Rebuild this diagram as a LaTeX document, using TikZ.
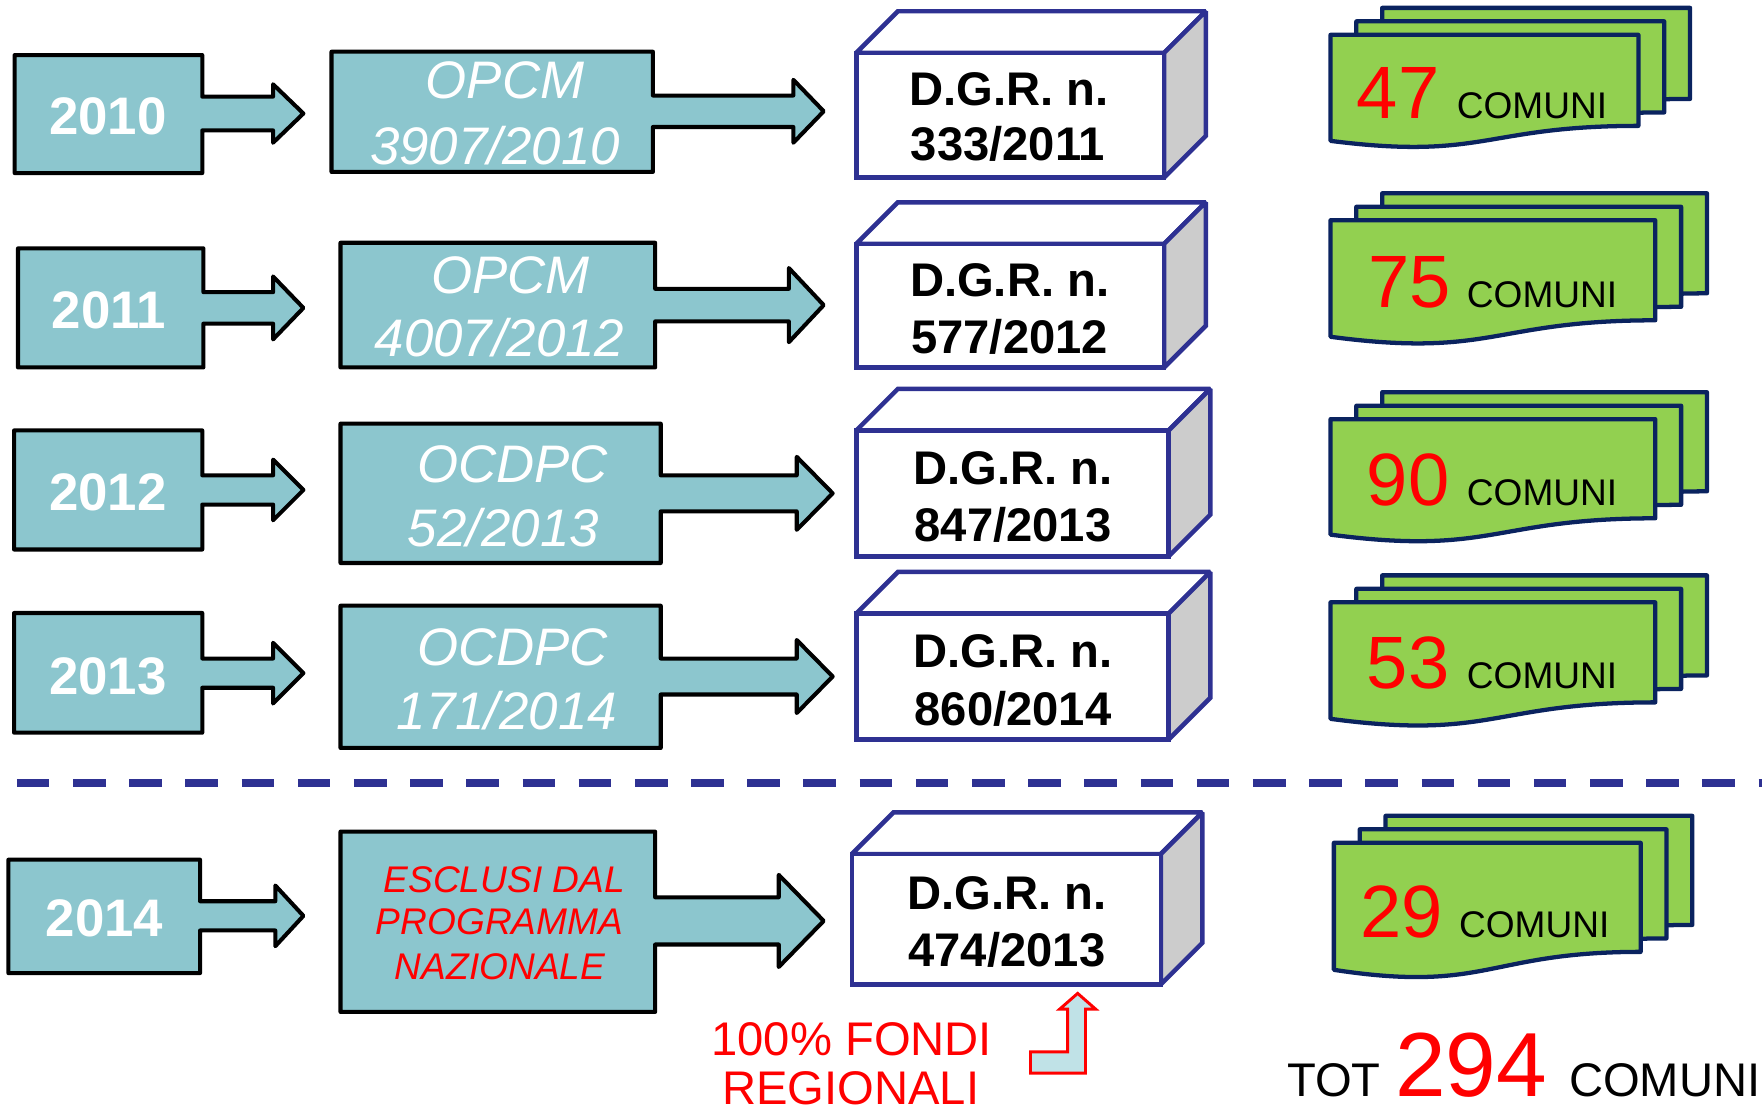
\documentclass[tikz,border=0pt]{standalone}
\usepackage{fontspec}
\setmainfont{Liberation Sans}
\definecolor{tealbox}{RGB}{140,198,206}
\definecolor{navy}{RGB}{46,49,146}
\definecolor{darknavy}{RGB}{10,35,95}
\definecolor{leaf}{RGB}{146,208,80}
\definecolor{sidegray}{RGB}{204,204,204}
\definecolor{paleblue}{RGB}{192,226,231}
\newcommand\mycallout[9]{%
  \draw[callout] (#1,#2) -- (#3,#2) -- (#3,{#5-#6}) -- (#8,{#5-#6}) -- (#8,{#5-#7}) -- (#9,#5)
    -- (#8,{#5+#7}) -- (#8,{#5+#6}) -- (#3,{#5+#6}) -- (#3,#4) -- (#1,#4) -- cycle;}
\newcommand\mycube[4]{%
  \draw[cubeline, fill=white] (#1,#2) -- ({#1+37},{#2-37}) -- ({#3+37},{#2-37}) -- (#3,#2) -- cycle;
  \draw[cubeline, fill=sidegray] (#3,#2) -- ({#3+37},{#2-37}) -- ({#3+37},{#4-37}) -- (#3,#4) -- cycle;
  \draw[cubeline, fill=white] (#1,#2) rectangle (#3,#4);}
\newcommand\mysheet[4]{%
  \draw[sheet] (#1,#2) -- ({#1+#3},#2) -- ({#1+#3},{#2+0.802*#4})
    .. controls ({#1+0.5*#3},{#2+0.802*#4}) and ({#1+0.5*#3},{#2+1.1075*#4}) .. (#1,{#2+0.934*#4}) -- cycle;}
\newcommand\mystack[4]{\mysheet{#1+46}{#2-24}{#3}{#4}\mysheet{#1+23}{#2-12}{#3}{#4}\mysheet{#1}{#2}{#3}{#4}}
\begin{document}
\begin{tikzpicture}[x=0.5pt,y=-0.5pt,
  callout/.style={fill=tealbox, draw=black, line width=1.8pt, line join=round},
  cubeline/.style={draw=navy, line width=2pt, line join=miter, miter limit=2},
  sheet/.style={fill=leaf, draw=darknavy, line width=1.9pt, line join=round},
  yeartxt/.style={text=white, font=\bfseries\fontsize{23.5}{26}\selectfont, inner sep=0pt, anchor=base},
  ordtxt/.style={text=white, font=\itshape\fontsize{23.5}{26}\selectfont, inner sep=0pt, anchor=base},
  esctxt/.style={text=red, font=\itshape\fontsize{16.5}{18}\selectfont, inner sep=0pt, anchor=base},
  dgrtxt/.style={text=black, font=\bfseries\fontsize{21}{24}\selectfont, inner sep=0pt, anchor=base},
  numtxt/.style={text=red, font=\fontsize{33}{36}\selectfont, inner sep=0pt, anchor=base west},
  comtxt/.style={text=black, font=\fontsize{16.5}{18}\selectfont, inner sep=0pt, anchor=base west},
  bigtxt/.style={font=\fontsize{21}{24}\selectfont, inner sep=0pt},
]
\useasboundingbox (0,0) rectangle (1568,993);

% ---- callouts: year boxes
\mycallout{13}{49}{180}{154}{101}{15}{26}{243}{270}
\mycallout{16}{221}{181}{327}{274}{14}{28}{243}{270}
\mycallout{12.5}{383}{180}{489}{436}{13}{27}{243}{270}
\mycallout{12.5}{545.5}{180}{652}{599}{13}{27}{243}{270}
\mycallout{7.5}{765}{178}{866}{815}{13}{27}{245}{270}
% ---- callouts: ordinances
\mycallout{295}{46}{581}{153}{99}{14}{28}{706}{733}
\mycallout{303}{216}{583}{327}{271.5}{14.5}{33}{702}{733}
\mycallout{303}{377}{588}{501}{439}{16}{32.5}{709}{741}
\mycallout{303}{539}{588}{665.6}{602}{16}{32.5}{709}{741}
\mycallout{303}{740}{583}{900.5}{819.5}{21}{41}{693}{733}

% ---- year texts
\node[yeartxt] (y2010) at (96,120) {2010};
\node[yeartxt] (y2011) at (97,292) {2011};
\node[yeartxt] (y2012) at (96,454) {2012};
\node[yeartxt] (y2013) at (96,617.6) {2013};
\node[yeartxt] (y2014) at (93,833) {2014};

% ---- ordinance texts
\node[ordtxt] (o1a) at (449.5,88) {OPCM};
\node[ordtxt] (o1b) at (440.5,146) {3907/2010};
\node[ordtxt] (o2a) at (454.5,261) {OPCM};
\node[ordtxt] (o2b) at (444.5,317.5) {4007/2012};
\node[ordtxt] (o3a) at (456,429) {OCDPC};
\node[ordtxt] (o3b) at (448,486) {52/2013};
\node[ordtxt] (o4a) at (456,592) {OCDPC};
\node[ordtxt] (o4b) at (451,649) {171/2014};
\node[esctxt] (e1) at (448.7,794) {ESCLUSI DAL};
\node[esctxt] (e2) at (444.5,831.5) {PROGRAMMA};
\node[esctxt] (e3) at (445,872) {NAZIONALE};

% ---- DGR cubes
\mycube{762}{47}{1036}{158}
\mycube{762}{217}{1036}{327}
\mycube{762}{383}{1040}{495}
\mycube{762}{546}{1040}{658}
\mycube{758}{760}{1033}{876}
\node[dgrtxt] (d1a) at (898,93.5) {D.G.R. n.};
\node[dgrtxt] (d1b) at (897,142.4) {333/2011};
\node[dgrtxt] (d2a) at (898.5,263.4) {D.G.R. n.};
\node[dgrtxt] (d2b) at (898.5,314.7) {577/2012};
\node[dgrtxt] (d3a) at (901.5,431) {D.G.R. n.};
\node[dgrtxt] (d3b) at (901.5,482.3) {847/2013};
\node[dgrtxt] (d4a) at (901.5,594.4) {D.G.R. n.};
\node[dgrtxt] (d4b) at (901.5,646) {860/2014};
\node[dgrtxt] (d5a) at (896,809) {D.G.R. n.};
\node[dgrtxt] (d5b) at (896,860.5) {474/2013};

% ---- dashed separator
\coordinate (sepL) at (15,697);
\coordinate (sepR) at (1568,697);
\draw[navy, line width=3.5pt, dash pattern=on 14.5pt off 10.5pt] (sepL) -- (sepR);

% ---- green stacks
\mystack{1184}{31}{274}{101}
\mystack{1184}{196}{289}{111}
\mystack{1184}{373}{289}{110}
\mystack{1184}{536}{289}{111}
\mystack{1187}{750}{273}{121}
\node[numtxt] (n1) at (1207,105) {47};
\node[comtxt] (c1) at (1296,105) {COMUNI};
\node[numtxt] (n2) at (1217,274) {75};
\node[comtxt] (c2) at (1305,274) {COMUNI};
\node[numtxt] (n3) at (1216,450) {90};
\node[comtxt] (c3) at (1305,450) {COMUNI};
\node[numtxt] (n4) at (1216,612.5) {53};
\node[comtxt] (c4) at (1305,612.5) {COMUNI};
\node[numtxt] (n5) at (1210,834) {29};
\node[comtxt] (c5) at (1298,834) {COMUNI};

% ---- total
\node[bigtxt, anchor=base west] (tot) at (1145,976) {TOT};
\node[inner sep=0pt, anchor=base west, text=red, font=\fontsize{40.5}{44}\selectfont] (tnum) at (1241,976) {294};
\node[bigtxt, anchor=base west] (tcom) at (1396,976) {COMUNI};

% ---- regional funds
\node[bigtxt, anchor=base, text=red] (f1) at (758,939) {100\% FONDI};
\node[bigtxt, anchor=base, text=red] (f2) at (757,983) {REGIONALI};
\draw[red, fill=paleblue, line width=1.3pt, line join=miter]
  (917,936) -- (950,936) -- (950,898) -- (943,898) -- (959,884) -- (975,898) -- (966,898)
  -- (966,955) -- (917,955) -- cycle;
\end{tikzpicture}
\end{document}
